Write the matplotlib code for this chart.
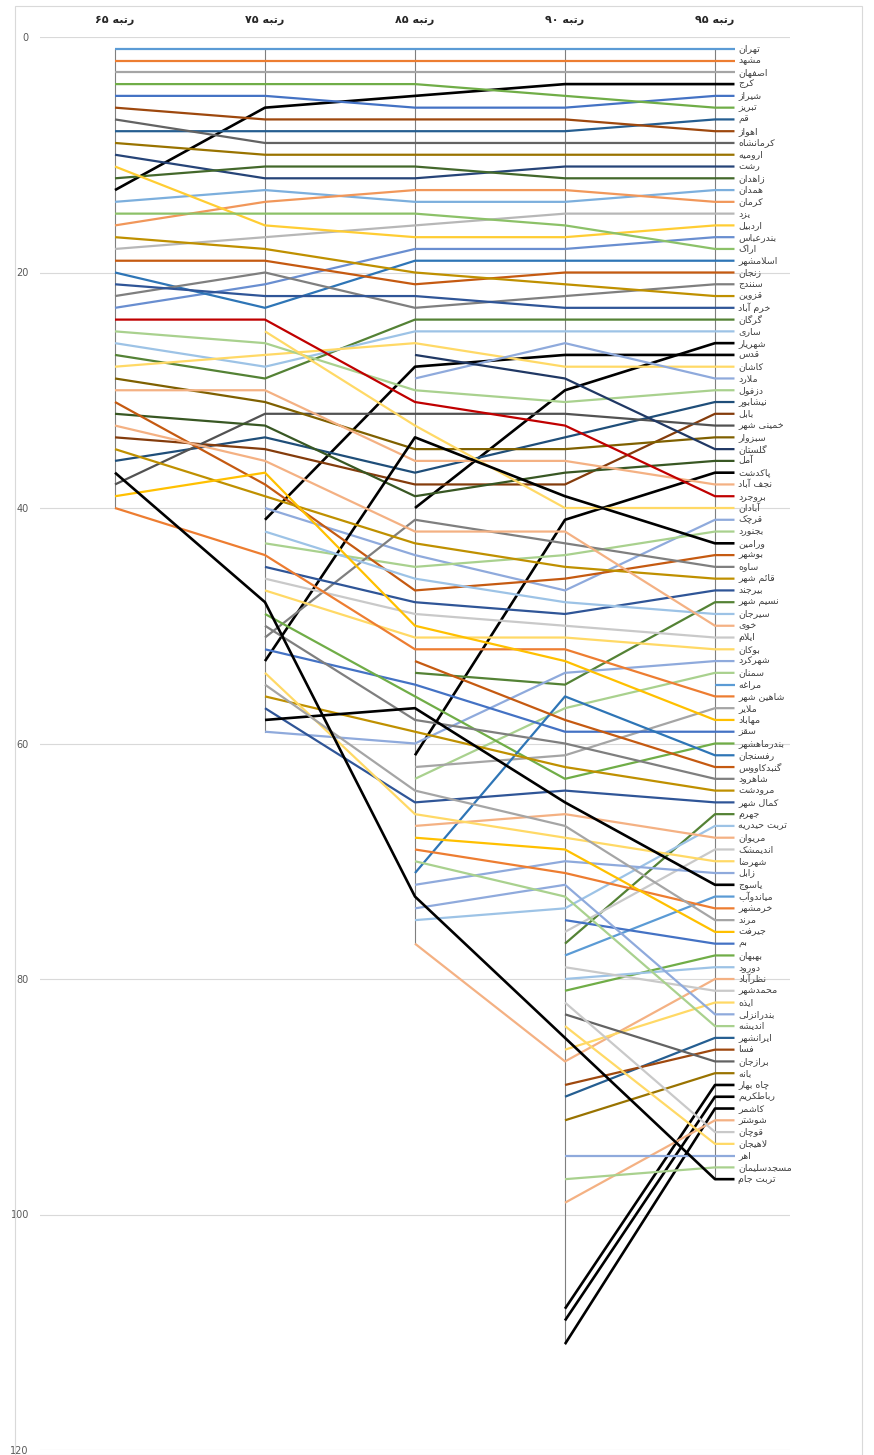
import matplotlib.pyplot as plt
from matplotlib.patches import Rectangle

plt.rcParams['font.family'] = ['DejaVu Sans']

years = ['۶۵', '۷۵', '۸۵', '۹۰', '۹۵']

cities = [
    'تهران', 'مشهد', 'اصفهان', 'کرج', 'شیراز', 'تبریز', 'قم', 'اهواز', 'کرمانشاه', 'ارومیه',
    'رشت', 'زاهدان', 'همدان', 'کرمان', 'یزد', 'اردبیل', 'بندرعباس', 'اراک', 'اسلامشهر', 'زنجان',
    'سنندج', 'قزوین', 'خرم آباد', 'گرگان', 'ساری', 'شهریار', 'قدس', 'کاشان', 'ملارد', 'دزفول',
    'نیشابور', 'بابل', 'خمینی شهر', 'سبزوار', 'گلستان', 'آمل', 'پاکدشت', 'نجف آباد', 'بروجرد', 'آبادان',
    'قرچک', 'بجنورد', 'ورامین', 'بوشهر', 'ساوه', 'قائم شهر', 'بیرجند', 'نسیم شهر', 'سیرجان', 'خوی',
    'ایلام', 'بوکان', 'شهرکرد', 'سمنان', 'مراغه', 'شاهین شهر', 'ملایر', 'مهاباد', 'سقز', 'بندرماهشهر',
    'رفسنجان', 'گنبدکاووس', 'شاهرود', 'مرودشت', 'کمال شهر', 'جهرم', 'تربت حیدریه', 'مریوان', 'اندیمشک', 'شهرضا',
    'زابل', 'یاسوج', 'میاندوآب', 'خرمشهر', 'مرند', 'جیرفت', 'بم', 'بهبهان', 'دورود', 'نظرآباد',
    'محمدشهر', 'ایذه', 'بندرانزلی', 'اندیشه', 'ایرانشهر', 'فسا', 'برازجان', 'بانه', 'چاه بهار', 'رباطکریم',
    'کاشمر', 'شوشتر', 'قوچان', 'لاهیجان', 'اهر', 'مسجدسلیمان', 'تربت جام',
]

N = None
rank65 = [
    1, 2, 3, 13, 5, 4, 8, 6, 7, 9,
    10, 12, 14, 16, 18, 11, 23, 15, 20, 19,
    22, 17, 21, 27, 26, N, N, 28, N, 25,
    36, 34, 38, 29, N, 32, N, 30, 24, N,
    N, N, N, 31, N, 35, N, N, N, 33,
    N, N, N, N, N, 40, N, 39, N, N,
    N, N, N, N, N, N, N, N, N, N,
    N, N, N, N, N, N, N, N, N, N,
    N, N, N, N, N, N, N, N, N, N,
    N, N, N, N, N, N, 37,
]
rank75 = [
    1, 2, 3, 6, 5, 4, 8, 7, 9, 10,
    12, 11, 13, 14, 17, 16, 21, 15, 23, 19,
    20, 18, 22, 29, 28, N, 41, 27, N, 26,
    34, 35, 32, 31, N, 33, N, 30, 24, 25,
    40, 43, 53, 38, 51, 39, 45, N, 42, 36,
    46, 47, 59, N, N, 44, N, 37, 52, 49,
    N, N, 50, 56, 57, N, N, N, N, 54,
    N, 58, N, N, 55, N, N, N, N, N,
    N, N, N, N, N, N, N, N, N, N,
    N, N, N, N, N, N, 48,
]
rank85 = [
    1, 2, 3, 5, 6, 4, 8, 7, 9, 10,
    12, 11, 14, 13, 16, 17, 18, 15, 19, 21,
    23, 20, 22, 24, 25, 40, 28, 26, 29, 30,
    37, 38, 32, 35, 27, 39, 61, 36, 31, 33,
    44, 45, 34, 47, 41, 43, 48, 54, 46, 42,
    49, 51, 60, 63, N, 52, 62, 50, 55, 56,
    71, 53, 58, 59, 65, N, 75, 67, N, 66,
    72, 57, N, 69, 64, 68, N, N, N, 77,
    N, N, 74, 70, N, N, N, N, N, N,
    N, N, N, N, N, N, 73,
]
rank90 = [
    1, 2, 3, 4, 6, 5, 8, 7, 9, 10,
    11, 12, 14, 13, 15, 17, 18, 16, 19, 20,
    22, 21, 23, 24, 25, 30, 27, 28, 26, 31,
    34, 38, 32, 35, 29, 37, 41, 36, 33, 40,
    47, 44, 39, 46, 43, 45, 49, 55, 48, 42,
    50, 51, 54, 57, N, 52, 61, 53, 59, 63,
    56, 58, 60, 62, 64, 77, 74, 66, 76, 68,
    70, 65, 78, 71, 67, 69, 75, 81, 80, 87,
    79, 86, 72, 73, 90, 89, 83, 92, 108, 109,
    111, 99, 82, 84, 95, 97, 85,
]
rank95 = [
    1, 2, 3, 4, 5, 6, 7, 8, 9, 10,
    11, 12, 13, 14, 15, 16, 17, 18, 19, 20,
    21, 22, 23, 24, 25, 26, 27, 28, 29, 30,
    31, 32, 33, 34, 35, 36, 37, 38, 39, 40,
    41, 42, 43, 44, 45, 46, 47, 48, 49, 50,
    51, 52, 53, 54, 55, 56, 57, 58, 59, 60,
    61, 62, 63, 64, 65, 66, 67, 68, 69, 70,
    71, 72, 73, 74, 75, 76, 77, 78, 79, 80,
    81, 82, 83, 84, 85, 86, 87, 88, 89, 90,
    91, 92, 93, 94, 95, 96, 97,
]

black_cities = ['کرج', 'شهریار', 'قدس', 'پاکدشت', 'ورامین', 'یاسوج',
                'چاه بهار', 'رباطکریم', 'کاشمر', 'تربت جام']
red_cities = ['بروجرد']

# --- minimal arabic shaping (matplotlib does no joining / rtl) ---
FORMS = {
    'ء': ('\uFE80',), 'آ': ('\uFE81', '\uFE82'), 'أ': ('\uFE83', '\uFE84'),
    'ؤ': ('\uFE85', '\uFE86'), 'إ': ('\uFE87', '\uFE88'),
    'ئ': ('\uFE89', '\uFE8A', '\uFE8B', '\uFE8C'), 'ا': ('\uFE8D', '\uFE8E'),
    'ب': ('\uFE8F', '\uFE90', '\uFE91', '\uFE92'), 'ة': ('\uFE93', '\uFE94'),
    'ت': ('\uFE95', '\uFE96', '\uFE97', '\uFE98'), 'ث': ('\uFE99', '\uFE9A', '\uFE9B', '\uFE9C'),
    'ج': ('\uFE9D', '\uFE9E', '\uFE9F', '\uFEA0'), 'ح': ('\uFEA1', '\uFEA2', '\uFEA3', '\uFEA4'),
    'خ': ('\uFEA5', '\uFEA6', '\uFEA7', '\uFEA8'), 'د': ('\uFEA9', '\uFEAA'),
    'ذ': ('\uFEAB', '\uFEAC'), 'ر': ('\uFEAD', '\uFEAE'), 'ز': ('\uFEAF', '\uFEB0'),
    'س': ('\uFEB1', '\uFEB2', '\uFEB3', '\uFEB4'), 'ش': ('\uFEB5', '\uFEB6', '\uFEB7', '\uFEB8'),
    'ص': ('\uFEB9', '\uFEBA', '\uFEBB', '\uFEBC'), 'ض': ('\uFEBD', '\uFEBE', '\uFEBF', '\uFEC0'),
    'ط': ('\uFEC1', '\uFEC2', '\uFEC3', '\uFEC4'), 'ظ': ('\uFEC5', '\uFEC6', '\uFEC7', '\uFEC8'),
    'ع': ('\uFEC9', '\uFECA', '\uFECB', '\uFECC'), 'غ': ('\uFECD', '\uFECE', '\uFECF', '\uFED0'),
    'ف': ('\uFED1', '\uFED2', '\uFED3', '\uFED4'), 'ق': ('\uFED5', '\uFED6', '\uFED7', '\uFED8'),
    'ل': ('\uFEDD', '\uFEDE', '\uFEDF', '\uFEE0'), 'م': ('\uFEE1', '\uFEE2', '\uFEE3', '\uFEE4'),
    'ن': ('\uFEE5', '\uFEE6', '\uFEE7', '\uFEE8'), 'ه': ('\uFEE9', '\uFEEA', '\uFEEB', '\uFEEC'),
    'و': ('\uFEED', '\uFEEE'), 'ي': ('\uFEF1', '\uFEF2', '\uFEF3', '\uFEF4'),
    'پ': ('\uFB56', '\uFB57', '\uFB58', '\uFB59'), 'چ': ('\uFB7A', '\uFB7B', '\uFB7C', '\uFB7D'),
    'ژ': ('\uFB8A', '\uFB8B'), 'ک': ('\uFB8E', '\uFB8F', '\uFB90', '\uFB91'),
    'گ': ('\uFB92', '\uFB93', '\uFB94', '\uFB95'), 'ی': ('\uFBFC', '\uFBFD', '\uFBFE', '\uFBFF'),
}
LAMALEF = {'ا': ('\uFEFB', '\uFEFC'), 'آ': ('\uFEF5', '\uFEF6'),
           'أ': ('\uFEF7', '\uFEF8'), 'إ': ('\uFEF9', '\uFEFA')}


def shape(word):
    out = []
    i = 0
    n = len(word)
    while i < n:
        c = word[i]
        if c not in FORMS:
            out.append(c)
            i += 1
            continue
        prev = word[i - 1] if i > 0 else None
        joins_prev = prev in FORMS and len(FORMS[prev]) == 4
        if c == 'ل' and i + 1 < n and word[i + 1] in LAMALEF:
            lig = LAMALEF[word[i + 1]]
            out.append(lig[1] if joins_prev else lig[0])
            i += 2
            continue
        f = FORMS[c]
        nxt = word[i + 1] if i + 1 < n else None
        joins_next = len(f) == 4 and nxt in FORMS
        if joins_prev and joins_next:
            g = f[3]
        elif joins_prev:
            g = f[1]
        elif joins_next:
            g = f[2]
        else:
            g = f[0]
        out.append(g)
        i += 1
    return ''.join(out)[::-1]


# office colour cycle with tint / shade variants
base = ['#5B9BD5', '#ED7D31', '#A5A5A5', '#FFC000', '#4472C4', '#70AD47']
dark60 = ['#255E91', '#9E480E', '#636363', '#997300', '#264478', '#43682B']
light80 = ['#7CAFDD', '#F1975A', '#B7B7B7', '#FFCD33', '#698ED0', '#8CC168']
dark75 = ['#2E75B6', '#C55A11', '#7F7F7F', '#BF9000', '#2F5597', '#548235']
light60 = ['#9DC3E6', '#F4B183', '#C9C9C9', '#FFD966', '#8FAADC', '#A9D18E']
dark50 = ['#1F4E79', '#843C0C', '#525252', '#7F6000', '#203864', '#385723']
blocks = [base, dark60, light80, dark75, light60, dark50, light60, dark75, light60,
          base, dark75, light60, base, light60, dark60, light60, base]


def colour_for(i, name):
    if name in black_cities:
        return 'black'
    if name in red_cities:
        return '#C00000'
    return blocks[i // 6][i % 6]


fig = plt.figure(figsize=(8.74, 14.55), dpi=100)
ax = fig.add_axes([40 / 874, 5 / 1455, 750 / 874, 1413 / 1455])

fig.patches.append(Rectangle((15 / 874, 0.0), 847 / 874, 1449 / 1455,
                             transform=fig.transFigure, fill=False,
                             edgecolor='#D9D9D9', linewidth=0.8))

cols = [rank65, rank75, rank85, rank90, rank95]

# drop lines
for j, col in enumerate(cols):
    vals = [v for v in col if v is not None]
    ax.plot([j, j], [min(vals), max(vals)], color='#7F7F7F', lw=0.8, zorder=2)

for i, name in enumerate(cities):
    xs, ys = [], []
    for j, col in enumerate(cols):
        if col[i] is not None:
            xs.append(j)
            ys.append(col[i])
    xs.append(4.13)
    ys.append(rank95[i])
    c = colour_for(i, name)
    lw = 1.9 if c == 'black' else 1.6
    ax.plot(xs, ys, color=c, lw=lw, solid_capstyle='butt', zorder=3 + i * 0.01)
    ax.text(4.155, rank95[i], shape(name), fontsize=6.8, color='#404040',
            ha='left', va='center', clip_on=False)

for j, yr in enumerate(years):
    ax.text(j, -1.45, yr + ' ' + shape('رتبه'), fontsize=8, fontweight='bold',
            color='#262626', ha='center', va='center', clip_on=False)

ax.set_xlim(-0.5, 4.5)
ax.set_ylim(120, 0)
ax.set_yticks([0, 20, 40, 60, 80, 100, 120])
ax.set_xticks([])
ax.tick_params(axis='y', length=0, labelsize=7, labelcolor='#595959', pad=8)
ax.grid(axis='y', color='#D9D9D9', lw=0.8)
ax.set_axisbelow(True)
for s in ax.spines.values():
    s.set_visible(False)

fig.savefig('out.png', dpi=100)
